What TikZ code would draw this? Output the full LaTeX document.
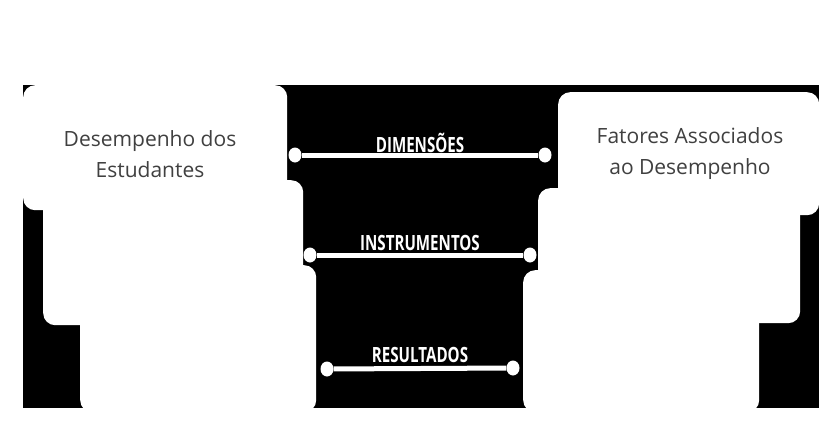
\documentclass[tikz,border=0pt]{standalone}
\usepackage{fontspec}
\setmainfont{Open Sans}
\usetikzlibrary{positioning, shapes.geometric}

\begin{document}
\begin{tikzpicture}[x=1pt,y=-1pt]

	\tikzset{
		block/.style={
				rectangle, rounded corners=12pt, fill=white, inner sep=0pt, anchor=north west
			},
		caption/.style={
				align=center, text=black!75, font=\fontsize{21}{31}\selectfont
			},
		dot/.style={
				ellipse, fill=white, inner sep=0pt, minimum width=13pt, minimum height=15pt
			},
		link/.style={
				white, line width=5pt
			},
		tag/.style={
				text=white, font=\bfseries\fontsize{21}{21}\selectfont, xscale=0.72, inner sep=0pt
			},
	}
	\useasboundingbox (0,0) rectangle (839,439);
	\fill[black] (23,85) rectangle (819,408);

	% left column
	\node[block, minimum width=264pt, minimum height=125pt] (l1) at (23,85) {};
	\node[block, minimum width=260pt, minimum height=145pt] (l2) at (43,180) {};
	\node[block, minimum width=236pt, minimum height=147pt] (l3) at (80,265) {};
	\node[caption] (ltext) at (150,154) {Desempenho dos\\Estudantes};

	% right column
	\node[block, minimum width=261pt, minimum height=123pt] (r1) at (558,92) {};
	\node[block, minimum width=262pt, minimum height=135pt] (r2) at (538,188) {};
	\node[block, minimum width=236pt, minimum height=142pt] (r3) at (523,270) {};
	\node[caption] (rtext) at (690,154) {Fatores Associados\\ao Desempenho};

	% connectors
	\node[dot] (d1) at (295,155) {};
	\node[dot] (d2) at (545,155) {};
	\node[dot] (i1) at (310,255) {};
	\node[dot] (i2) at (530,255) {};
	\node[dot] (r1a) at (327,369) {};
	\node[dot] (r2a) at (513,368) {};

	\draw[link] (d1) -- (d2);
	\draw[link] (i1) -- (i2);
	\draw[link] (r1a) -- (r2a);

	\node[tag] (dim) at (420,143) {DIMENSÕES};
	\node[tag] (ins) at (420,243) {INSTRUMENTOS};
	\node[tag] (res) at (420,355) {RESULTADOS};

\end{tikzpicture}
\end{document}
